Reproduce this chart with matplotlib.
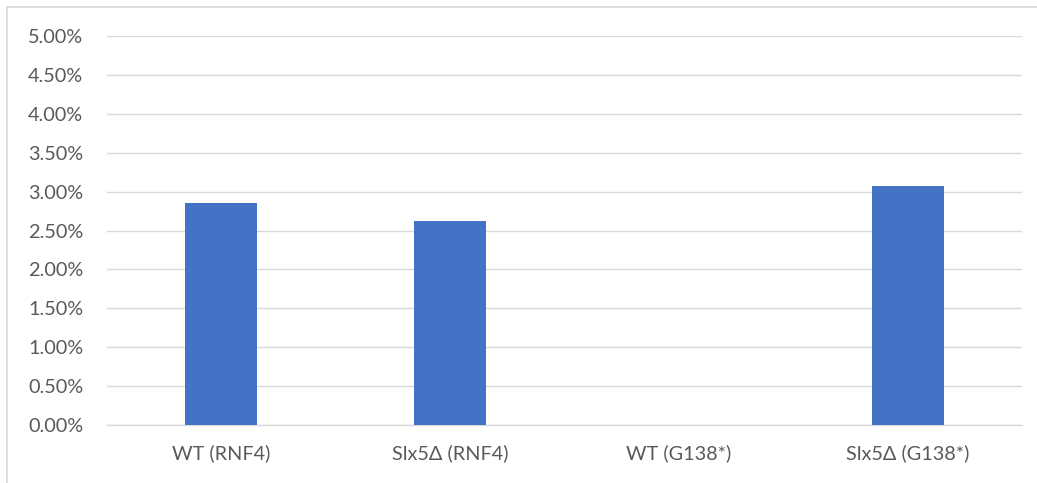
import matplotlib
matplotlib.use("Agg")
import matplotlib.pyplot as plt
from matplotlib.patches import Rectangle
from matplotlib.ticker import FuncFormatter, MultipleLocator

categories = ["WT (RNF4)", "Slx5Δ (RNF4)", "WT (G138*)", "Slx5Δ (G138*)"]
values = [0.02848, 0.02627, 0.0, 0.03073]

BAR_COLOR = "#4472C4"
GRID_COLOR = "#D9D9D9"
TEXT_COLOR = "#595959"

plt.rcParams["font.family"] = ["Lato", "DejaVu Sans"]

W, H = 1037, 483
fig = plt.figure(figsize=(W / 100, H / 100), dpi=100)

# chart-area frame
fig.patches.append(Rectangle((7 / W, -0.1), 1.2, (H - 7) / H + 0.1,
                             transform=fig.transFigure, fill=False,
                             edgecolor=GRID_COLOR, linewidth=1.2))

ax = fig.add_axes([107 / W, (H - 425) / H, (1022 - 107) / W, (425 - 36) / H])
x = range(len(categories))
ax.bar(x, values, width=0.315, color=BAR_COLOR, zorder=3)

ax.set_xlim(-0.5, len(categories) - 0.5)
ax.set_ylim(0, 0.05)
ax.yaxis.set_major_locator(MultipleLocator(0.005))
ax.yaxis.set_major_formatter(FuncFormatter(lambda v, _: f"{v * 100:.2f}%"))
ax.set_xticks(list(x))
ax.set_xticklabels(categories)

ax.grid(axis="y", color=GRID_COLOR, linewidth=1.0, zorder=0)
for s in ("top", "right", "left"):
    ax.spines[s].set_visible(False)
ax.spines["bottom"].set_color(GRID_COLOR)
ax.spines["bottom"].set_linewidth(1.0)

ax.tick_params(axis="both", length=0, labelsize=14.3, labelcolor=TEXT_COLOR)
ax.tick_params(axis="y", pad=17)
ax.tick_params(axis="x", pad=14)

fig.savefig("out.png", dpi=100)
